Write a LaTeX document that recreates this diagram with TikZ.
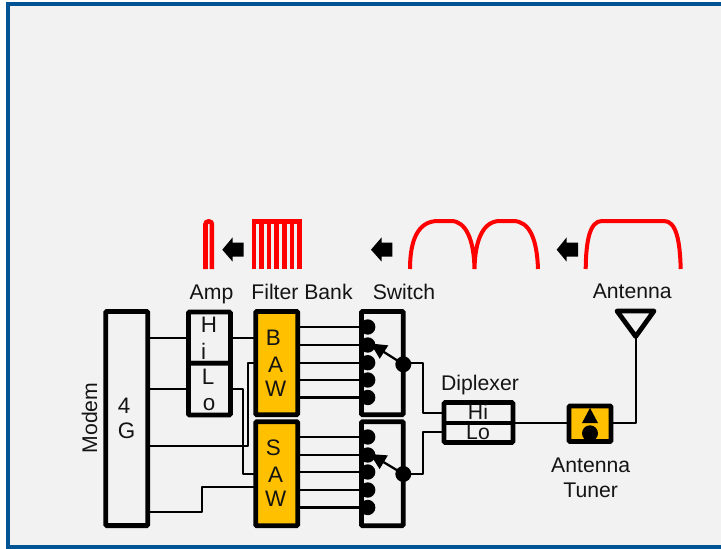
\documentclass[tikz,border=0pt]{standalone}
\usepackage{fontspec}
\setmainfont{Liberation Sans}
\usetikzlibrary{arrows.meta}
\definecolor{frameblue}{RGB}{0,84,147}
\definecolor{panel}{RGB}{242,242,242}
\definecolor{gold}{RGB}{255,192,0}
\tikzset{x=0.75pt,y=-0.75pt,
 block/.style={draw=black,line width=3.6pt,rounded corners=0.8pt,fill=panel,anchor=north west,inner sep=0pt,outer sep=0pt},
 goldblock/.style={block,fill=gold},
 wire/.style={draw=black,line width=1.7pt,line join=round},
 lab/.style={inner sep=0pt,anchor=base,font=\fontsize{15.9}{18}\selectfont,text=black!92},
 blocktxt/.style={lab,font=\fontsize{16.8}{18}\selectfont},
 rf/.style={draw=red,line width=3pt},
 rfthick/.style={draw=red,line width=3.4pt},
 dot/.style={circle,fill=black,inner sep=0pt,minimum size=12pt},
 pad/.style={circle,fill=black,inner sep=0pt,minimum size=11.5pt},
 flow/.style={fill=black,draw=none}}
\newcommand{\boxat}[6][block]{\node[#1,minimum width=#4*0.75pt,minimum height=#5*0.75pt] (#6) at (#2,#3) {};}
\newcommand{\flowarrow}[3]{\fill[flow] (#1,249.7) -- (#2,237.3) -- (#2,242.7) -- (#3,242.7) -- (#3,256.7) -- (#2,256.7) -- (#2,261.7) -- cycle;}
\begin{document}
\begin{tikzpicture}
\path[clip] (0,0) rectangle (721,549);
\fill[white] (0,0) rectangle (721,549);
\draw[frameblue,line width=3.1pt,fill=panel] (8,4) rectangle (740,547.5);
% blocks
\boxat{105.7}{311.4}{42}{214.2}{modem}
\boxat{188.4}{312}{42}{51.3}{hi}
\boxat{188.4}{363.3}{42}{51.7}{lo}
\boxat[goldblock]{255.7}{311.4}{42}{103.3}{baw}
\boxat[goldblock]{255.7}{421.7}{42}{104}{saw}
\boxat{361.5}{311.4}{41.7}{103.3}{swa}
\boxat{361.5}{421.7}{41.7}{104}{swb}
% wires
\draw[wire] (modem.east |- 0,338.3) -- (hi.west |- 0,338.3);
\draw[wire] (hi.east |- 0,338.3) -- (baw.west |- 0,338.3);
\draw[wire] (modem.east |- 0,389) -- (lo.west |- 0,389);
\draw[wire] (lo.east |- 0,389) -- (242.7,389) -- (242.7,474) -- (saw.west |- 0,474);
\draw[wire] (modem.east |- 0,445.7) -- (247.7,445.7) -- (247.7,362.7) -- (baw.west |- 0,362.7);
\draw[wire] (modem.east |- 0,512.3) -- (201.7,512.3) -- (201.7,487.3) -- (saw.west |- 0,487.3);
\foreach \y in {327,345,362.7,380,397.5}{\draw[wire] (baw.east |- 0,\y) -- (swa.west |- 0,\y);}
\foreach \y in {437,455,472,490,507.5}{\draw[wire] (saw.east |- 0,\y) -- (swb.west |- 0,\y);}
% block texts
\node[blocktxt] (t4) at (124,413.3) {4};
\node[blocktxt] (tg) at (126.7,438.3) {G};
\node[blocktxt] (thi1) at (209,332.7) {H};
\node[blocktxt] (thi2) at (203.5,359.3) {i};
\node[blocktxt] (tlo1) at (208,384.3) {L};
\node[blocktxt] (tlo2) at (209,410) {o};
\node[blocktxt] (tb) at (273.3,345.7) {B};
\node[blocktxt] (ta1) at (275.5,372.3) {A};
\node[blocktxt] (tw1) at (275.7,396.7) {W};
\node[blocktxt] (ts) at (273.3,455.7) {S};
\node[blocktxt] (ta2) at (275.5,482.3) {A};
\node[blocktxt] (tw2) at (275.7,506.7) {W};
% switch contacts
\foreach \y [count=\i] in {327,345,362.7,380,397.5}{\node[pad] (pa\i) at (367.7,\y) {};}
\foreach \y [count=\i] in {437,455,472,490,507.5}{\node[pad] (pb\i) at (367.7,\y) {};}
\node[dot] (ca) at (403.3,364.3) {};
\node[dot] (cb) at (403.3,474) {};
\draw[black,line width=1.7pt,-{Triangle[length=12pt,width=11.5pt]}] (ca.center) -- (370.5,343.5);
\draw[black,line width=1.7pt,-{Triangle[length=12pt,width=11.5pt]}] (cb.center) -- (370,454);
% diplexer
\node[block,line width=3.4pt,minimum width=51.75pt,minimum height=30pt] (dip) at (444,402.5) {};
\draw[black,line width=3pt] (dip.west) -- (dip.east);
\node[lab] (tdhi) at (478,419) {Hi};
\node[lab] (tdlo) at (478,439.3) {Lo};
\draw[wire] (403.3,362.7) -- (423,362.7) -- (423,412.7) -- (dip.west |- 0,412.7);
\draw[wire] (cb.center) -- (423,474) -- (423,432) -- (dip.west |- 0,432);
% tuner
\node[goldblock,minimum width=31.5pt,minimum height=26.6pt] (tuner) at (569,406) {};
\fill[black] (590,408) -- (598,423) -- (582,423) -- cycle;
\node[dot] (tdot) at (590,433.3) {};
\draw[wire] (dip.east |- 0,423.3) -- (tuner.west |- 0,423.3);
% antenna
\draw[black,line width=3.6pt,line join=round] (617,311) -- (654,311) -- (635.7,336.5) -- cycle;
\coordinate (anttip) at (635.7,336.5);
\draw[wire] (tuner.east |- 0,423.3) -- (635.7,423.3) -- (anttip);
% labels
\node[lab] (amp) at (211.5,299) {Amp};
\node[lab] (fb) at (302,299) {Filter Bank};
\node[lab] (sw) at (404,299) {Switch};
\node[lab] (ant) at (632.3,298.3) {Antenna};
\node[lab] (dl) at (480,390) {Diplexer};
\node[lab] (tl1) at (590.7,472.7) {Antenna};
\node[lab] (tl2) at (590.7,497.7) {Tuner};
\node[lab,rotate=90] (md) at (97,418) {Modem};
% flow arrows
\flowarrow{222.3}{232.7}{243.7}
\flowarrow{371}{381.7}{392.3}
\flowarrow{556.7}{566.7}{578}
% spectra
\draw[rfthick,rounded corners=2pt] (205.5,269) -- (205.5,221.5) -- (211.9,221.5) -- (211.9,269);
\foreach \x in {254,261.5,269,276.7,284.3,291.9,299.5}{\draw[rfthick] (\x,269) -- (\x,221.5);}
\draw[rfthick] (252,221.5) -- (301.5,221.5);
\draw[rf] (410,269) .. controls (410,240) and (418,221) .. (438,221) -- (451,221) .. controls (466,221) and (474,240) .. (474.5,269) .. controls (475,240) and (483,221) .. (500,221) -- (513,221) .. controls (530,221) and (537,240) .. (538,269);
\draw[rf] (585.7,269) .. controls (586,240) and (590,221) .. (602,221) -- (664,221) .. controls (676,221) and (680,240) .. (680.7,269);
\end{tikzpicture}
\end{document}
